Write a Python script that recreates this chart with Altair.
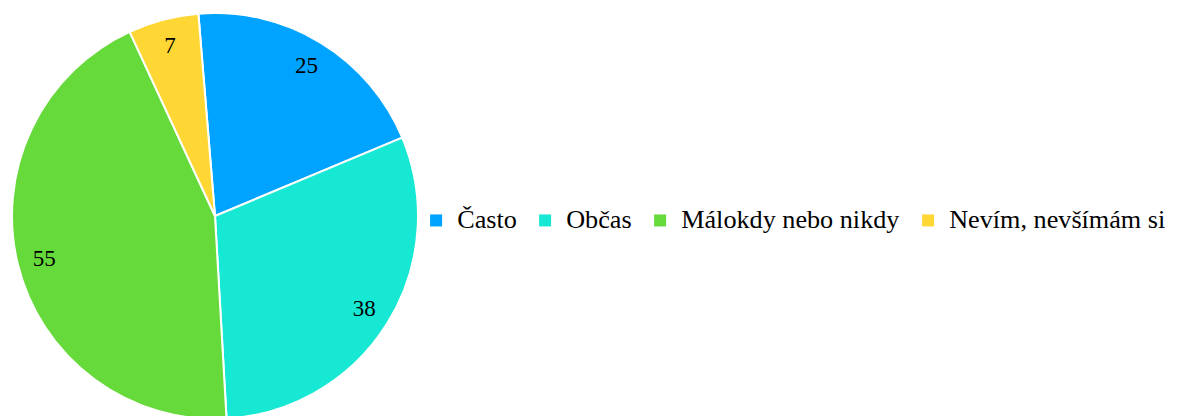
import math
import altair as alt
import pandas as pd

categories = ["Často", "Občas", "Málokdy nebo nikdy", "Nevím, nevšímám si"]
values = [25, 38, 55, 7]
colors = ["#00A3FF", "#17E8D3", "#66DA3B", "#FFD734"]

df = pd.DataFrame({"cat": categories, "value": values, "order": list(range(len(values)))})

FONT = "Liberation Serif"

start = math.radians(-4.7)
theta = alt.Theta("value:Q", stack=True, scale=alt.Scale(range=[start, start + 2 * math.pi]))
color = alt.Color(
    "cat:N",
    scale=alt.Scale(domain=categories, range=colors),
    sort=categories,
    legend=alt.Legend(
        title=None,
        orient="none",
        legendX=414,
        legendY=199,
        direction="horizontal",
        symbolType="square",
        symbolSize=144,
        symbolStrokeWidth=0,
        labelFont=FONT,
        labelFontSize=26.2,
        labelColor="#000000",
        labelLimit=500,
        symbolOffset=0,
        columnPadding=15,
        labelOffset=8,
    ),
)

base = alt.Chart(df).encode(theta=theta, order=alt.Order("order:Q"))
arc = base.mark_arc(radius=203, stroke="white", strokeWidth=2).encode(color=color)
text = base.mark_text(radius=176, font=FONT, fontSize=23, color="#000000").encode(
    text="value:Q"
)

chart = (
    (arc + text)
    .properties(width=412, height=416, padding=0)
    .configure_view(stroke=None)
)
chart.save("out.html", embed_options={"renderer": "svg", "actions": False})
